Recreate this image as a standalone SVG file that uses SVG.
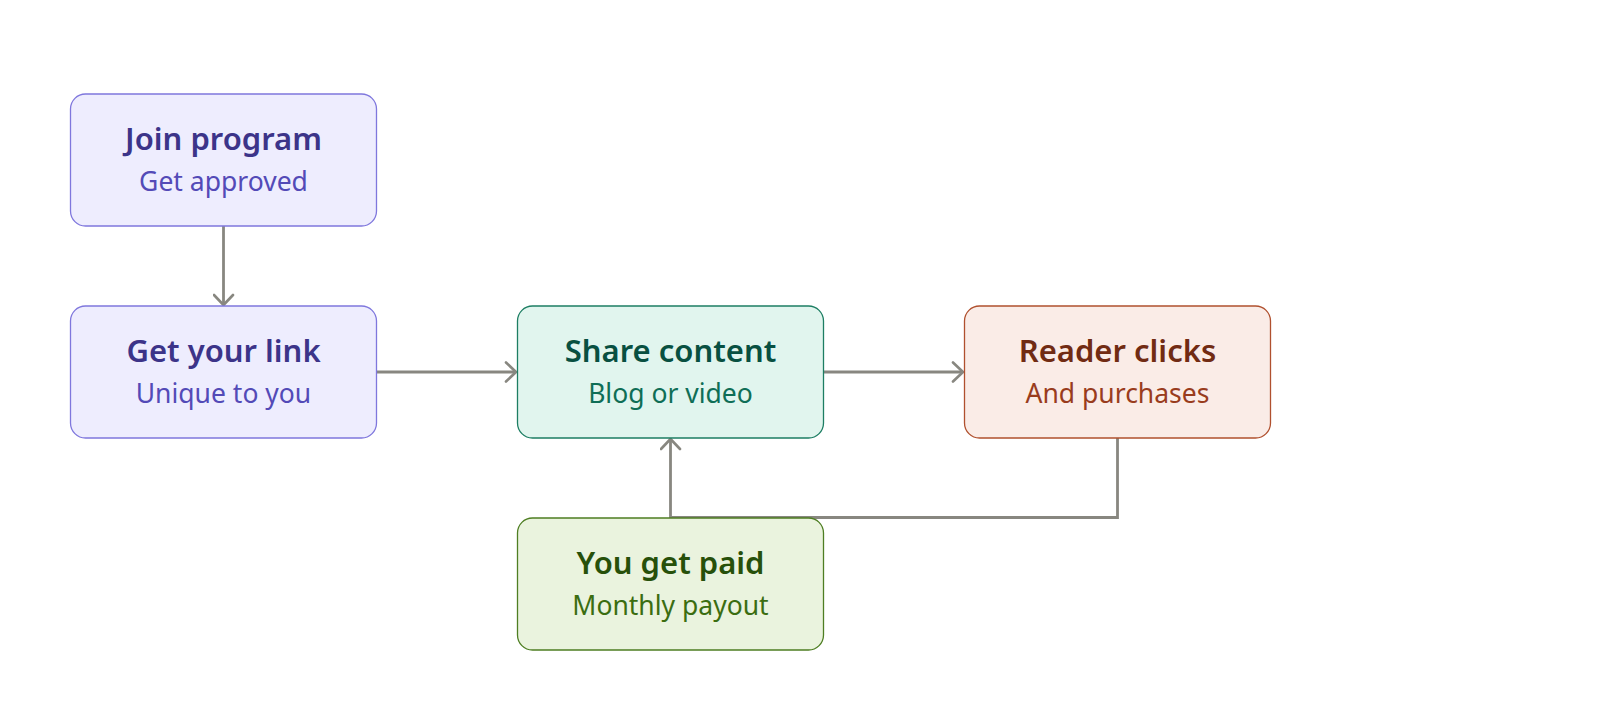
<svg xmlns="http://www.w3.org/2000/svg" width="1600" height="706" viewBox="0 0 1600 706">
<defs>
<marker id="arr" viewBox="0 0 14 22" refX="12" refY="11" markerWidth="14" markerHeight="22" markerUnits="userSpaceOnUse" orient="auto-start-reverse">
<path d="M2,1.5 L12,11 L2,20.5" fill="none" stroke="#888780" stroke-width="2.6" stroke-linecap="round" stroke-linejoin="round"/>
</marker>
<style>
.t{font-family:"Noto Sans","Open Sans",sans-serif;font-size:31px;font-weight:600;text-anchor:middle}
.s{font-family:"Noto Sans","Open Sans",sans-serif;font-size:26.5px;font-weight:400;text-anchor:middle}
.c{fill:none;stroke:#888780;stroke-width:2.8}
rect{stroke-width:1.3}
.pu rect{fill:#EEEDFE;stroke:#7F77DD}
.pu .t{fill:#3C3489}.pu .s{fill:#534AB7}
.te rect{fill:#E1F5EE;stroke:#1D7E63}
.te .t{fill:#085041}.te .s{fill:#0F6E56}
.co rect{fill:#FAECE7;stroke:#B0502E}
.co .t{fill:#712B13}.co .s{fill:#993C1D}
.gr rect{fill:#EAF3DE;stroke:#4E7E22}
.gr .t{fill:#27500A}.gr .s{fill:#3B6D11}
</style>
</defs>
<rect width="1600" height="706" fill="#ffffff"/>
<g id="connectors">
<path class="c" d="M223.5,226 V305" marker-end="url(#arr)"/>
<path class="c" d="M376.5,372 H516" marker-end="url(#arr)"/>
<path class="c" d="M823.5,372 H963" marker-end="url(#arr)"/>
<path class="c" d="M1117.5,438 V517.5 H670.5 V439" marker-end="url(#arr)"/>
</g>
<g id="join" class="pu">
<rect x="70.5" y="94" width="306" height="132" rx="15"/>
<text class="t" x="223.5" y="150">Join program</text>
<text class="s" x="223.5" y="190.5">Get approved</text>
</g>
<g id="link" class="pu">
<rect x="70.5" y="306" width="306" height="132" rx="15"/>
<text class="t" x="223.5" y="362">Get your link</text>
<text class="s" x="223.5" y="402.5">Unique to you</text>
</g>
<g id="share" class="te">
<rect x="517.5" y="306" width="306" height="132" rx="15"/>
<text class="t" x="670.5" y="362">Share content</text>
<text class="s" x="670.5" y="402.5">Blog or video</text>
</g>
<g id="reader" class="co">
<rect x="964.5" y="306" width="306" height="132" rx="15"/>
<text class="t" x="1117.5" y="362">Reader clicks</text>
<text class="s" x="1117.5" y="402.5">And purchases</text>
</g>
<g id="paid" class="gr">
<rect x="517.5" y="518" width="306" height="132" rx="15"/>
<text class="t" x="670.5" y="574">You get paid</text>
<text class="s" x="670.5" y="614.5">Monthly payout</text>
</g>
</svg>
